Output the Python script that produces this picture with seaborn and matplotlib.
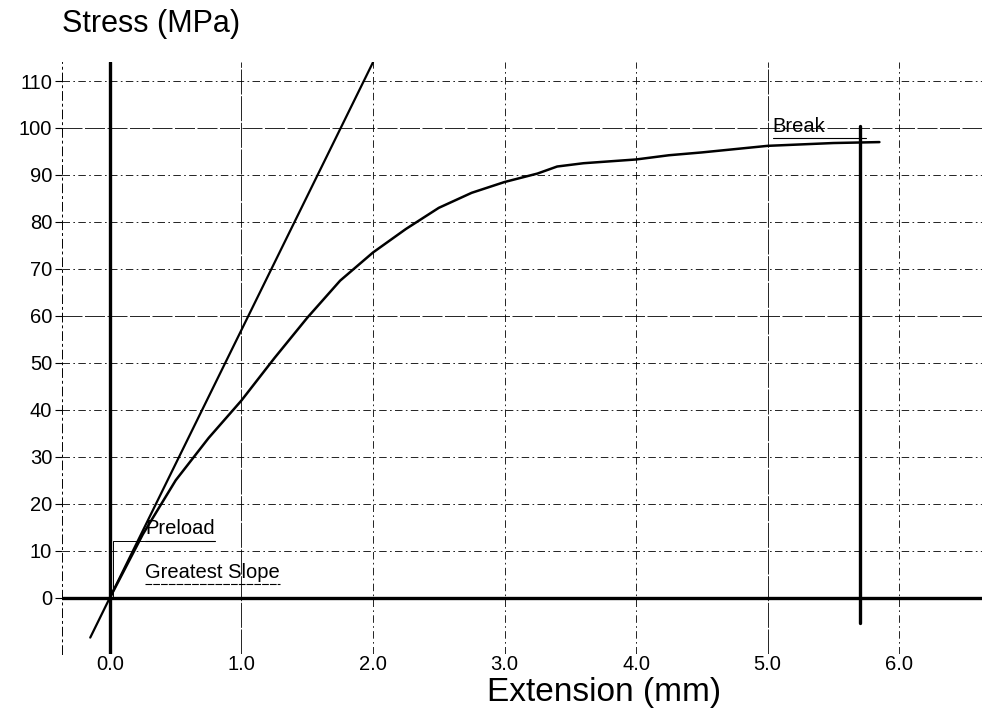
#!/usr/bin/env python3
"""Stress vs extension tensile test chart -> out.png"""

import matplotlib.pyplot as plt
import pandas as pd
import seaborn as sns

# curve
extension = [0.0, 0.25, 0.5, 0.75, 1.0, 1.25, 1.5, 1.75, 2.0, 2.25, 2.5, 2.75,
             3.0, 3.25, 3.4, 3.6, 4.0, 4.25, 4.5, 5.0, 5.5, 5.85]
stress = [0.0, 13.5, 25.0, 34.0, 42.0, 51.0, 59.6, 67.5, 73.5, 78.5, 83.0, 86.2,
          88.5, 90.3, 91.8, 92.5, 93.3, 94.2, 94.8, 96.2, 96.8, 97.0]

# greatest slope tangent
tangent_x = [-0.15, 2.0]
tangent_y = [-8.5, 114.0]

break_x = 5.7
preload_stress = 12.0

x_ticks = [0, 1, 2, 3, 4, 5, 6]
y_ticks = list(range(0, 111, 10))

sns.set_style("white")
plt.rcParams["font.family"] = ["Liberation Sans", "DejaVu Sans"]
plt.rcParams["text.color"] = "black"
plt.rcParams["xtick.color"] = "black"
plt.rcParams["ytick.color"] = "black"

curve = pd.DataFrame({"extension": extension, "stress": stress})
tang = pd.DataFrame({"extension": tangent_x, "stress": tangent_y})

fig = plt.figure(figsize=(9.82, 7.13), dpi=100)
ax = fig.add_axes([0.0631, 0.0827, 0.9369, 0.830])

grid_ls = (0, (9, 4, 2, 4))
for xv in x_ticks:
    ls = (0, (30, 2)) if xv in (1, 5) else grid_ls
    ax.axvline(xv, color="black", lw=0.6, ls=ls, zorder=1)
for yv in y_ticks:
    ls = (0, (24, 3)) if yv in (60, 100) else grid_ls
    ax.axhline(yv, color="black", lw=0.6, ls=ls, zorder=1)

# main axes through origin
ax.axvline(0, color="black", lw=2.4, zorder=3)
ax.axhline(0, color="black", lw=2.4, zorder=3)

sns.lineplot(data=tang, x="extension", y="stress", ax=ax, color="black", lw=1.6,
             sort=False, zorder=4)
sns.lineplot(data=curve, x="extension", y="stress", ax=ax, color="black", lw=1.8,
             sort=False, zorder=4)

# break marker
ax.plot([break_x, break_x], [-5.3, 100.5], color="black", lw=2.4, zorder=4)
ax.plot([5.04, 5.75], [97.9, 97.9], color="black", lw=0.8, zorder=4)
ax.text(5.04, 98.4, "Break", fontsize=14.5, ha="left", va="bottom")

# preload / greatest slope markers
ax.plot([0.02, 0.02, 0.27], [0, preload_stress, preload_stress], color="black", lw=0.7, zorder=4)
ax.plot([0.27, 0.80], [preload_stress, preload_stress], color="black", lw=0.8, zorder=4)
ax.text(0.27, preload_stress + 0.6, "Preload", fontsize=14.5, ha="left", va="bottom")
ax.plot([0.27, 1.29], [3.0, 3.0], color="black", lw=0.8, ls=(0, (6, 1)), zorder=4)
ax.text(0.27, 3.4, "Greatest Slope", fontsize=14.5, ha="left", va="bottom")

ax.set_xlim(-0.365, 6.63)
ax.set_ylim(-12, 114)
ax.set_xticks(x_ticks)
ax.set_xticklabels([f"{v:.1f}" for v in x_ticks])
ax.set_yticks(y_ticks)
ax.set_xlabel("")
ax.set_ylabel("")
ax.tick_params(axis="x", length=0, pad=1, labelsize=14.5)
ax.tick_params(axis="y", length=5, width=0.8, pad=2, labelsize=14.5, left=True)

for side in ("top", "right", "bottom"):
    ax.spines[side].set_visible(False)
ax.spines["left"].set_linestyle((0, (9, 4, 2, 4)))
ax.spines["left"].set_linewidth(0.7)
ax.spines["left"].set_color("black")

fig.text(62 / 982, 1 - 24 / 713, "Stress (MPa)", fontsize=22, ha="left", va="center")
fig.text(604 / 982, 1 - 692 / 713, "Extension (mm)", fontsize=24, ha="center", va="center")

fig.savefig("out.png", dpi=100)
